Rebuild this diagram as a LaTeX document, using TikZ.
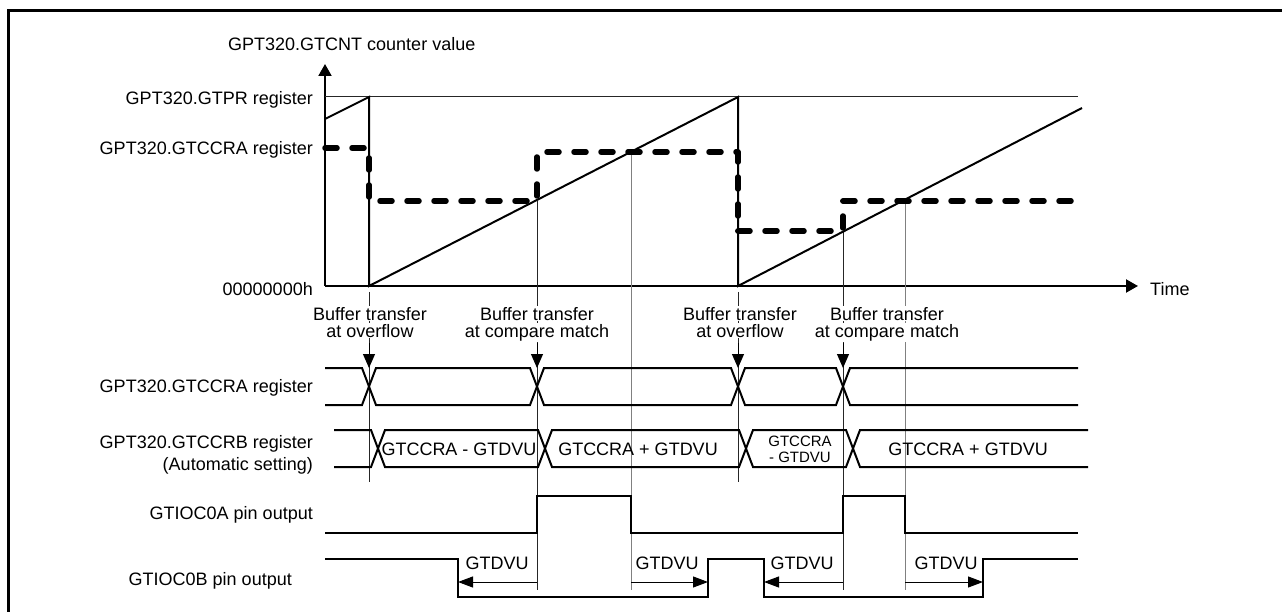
\documentclass[tikz,border=0pt]{standalone}
\usepackage{fontspec}
\setmainfont{Liberation Sans}
\usetikzlibrary{arrows.meta}
\begin{document}
\begin{tikzpicture}[x=1pt,y=-1pt,
  lbl/.style={font=\fontsize{18}{18}\selectfont, inner sep=0pt},
  smalllbl/.style={font=\fontsize{15}{15}\selectfont, inner sep=0pt},
  covlbl/.style={lbl, fill=white, inner sep=1pt},
  wave/.style={line width=2pt, line join=miter},
  thinln/.style={line width=1pt, black!85},
  grayln/.style={line width=1pt, black!50},
  dashln/.style={line width=5.5pt, line cap=round, line join=round, dash pattern=on 12pt off 15pt},
  axisarrow/.style={line width=2pt, -{Triangle[length=12pt,width=13pt]}},
  evarrow/.style={line width=1pt, -{Triangle[length=14pt,width=12pt]}},
  dimarrow/.style={line width=1pt, -{Triangle[length=15pt,width=11pt]}}]
\clip (0,0) rectangle (1282,612);
\fill[white] (0,0) rectangle (1282,612);
% frame
\draw[line width=3pt] (8.5,10.5) rectangle (1320,650);

% axes
\coordinate (O) at (325,286);
\coordinate (Ytop) at (325,64);
\coordinate (Xend) at (1138,286);
\draw[axisarrow] (O) -- (Ytop);
\draw[axisarrow] (O) -- (Xend);
\node[lbl, anchor=base west] (ytitle) at (228,51) {GPT320.GTCNT counter value};
\node[lbl, anchor=base west] (tlabel) at (1150,295) {Time};
\node[lbl, anchor=base east] (gtpr) at (313,105) {GPT320.GTPR register};
\node[lbl, anchor=base east] (gtccra) at (313,155) {GPT320.GTCCRA register};
\node[lbl, anchor=base east] (zero) at (313,295) {00000000h};

% GTPR level
\draw[thinln] (325,97) -- (1078,97);

% event vertical lines
\draw[thinln] (369,292) -- (369,482);
\draw[thinln] (738,292) -- (738,482);
\draw[thinln] (537,201) -- (537,590);
\draw[thinln] (843,231) -- (843,590);
\draw[grayln] (631,152) -- (631,590);
\draw[grayln] (905,201) -- (905,590);

% sawtooth counter
\draw[line width=2pt, line join=miter] (325,119) -- (369,97) -- (369,286) -- (738,97) -- (738,286) -- (1082,108);

% GTCCRA dashed level
\draw[dashln] (325,148) -- (369,148) -- (369,201) -- (537,201) -- (537,152) -- (738,152) -- (738,231) -- (843,231) -- (843,201) -- (1077,201);

% buffer transfer labels
\node[covlbl, anchor=base] (bt1) at (370,320) {Buffer transfer};
\node[covlbl, anchor=base] (bt1b) at (370,337) {at overflow};
\node[covlbl, anchor=base] (bt2) at (537,320) {Buffer transfer};
\node[covlbl, anchor=base] (bt2b) at (537,337) {at compare match};
\node[covlbl, anchor=base] (bt3) at (740,320) {Buffer transfer};
\node[covlbl, anchor=base] (bt3b) at (740,337) {at overflow};
\node[covlbl, anchor=base] (bt4) at (887,320) {Buffer transfer};
\node[covlbl, anchor=base] (bt4b) at (887,337) {at compare match};

\foreach \x/\n in {369/a,537/b,738/c,843/d}{
  \coordinate (es\n) at (\x,343);
  \coordinate (ee\n) at (\x,368);
  \draw[evarrow] (es\n) -- (ee\n);
}

% bus 1: GTCCRA register
\node[lbl, anchor=base east] (busa) at (313,392) {GPT320.GTCCRA register};
\draw[wave] (325,368) -- (362,368) -- (376,405) -- (530,405) -- (544,368) -- (731,368) -- (745,405) -- (836,405) -- (850,368) -- (1078,368);
\draw[wave] (325,405) -- (362,405) -- (376,368) -- (530,368) -- (544,405) -- (731,405) -- (745,368) -- (836,368) -- (850,405) -- (1078,405);

% bus 2: GTCCRB register
\node[lbl, anchor=base east] (busb) at (313,448) {GPT320.GTCCRB register};
\node[lbl, anchor=base east] (busb2) at (313,470) {(Automatic setting)};
\draw[wave] (334,430) -- (371,430) -- (385,467) -- (538,467) -- (552,430) -- (739,430) -- (753,467) -- (846,467) -- (860,430) -- (1088,430);
\draw[wave] (334,467) -- (371,467) -- (385,430) -- (538,430) -- (552,467) -- (739,467) -- (753,430) -- (846,430) -- (860,467) -- (1088,467);
\node[lbl, anchor=base] (v1) at (459,455) {GTCCRA - GTDVU};
\node[lbl, anchor=base] (v2) at (638,455) {GTCCRA + GTDVU};
\node[smalllbl, anchor=base] (v3) at (800,446) {GTCCRA};
\node[smalllbl, anchor=base] (v3b) at (800,462) {- GTDVU};
\node[lbl, anchor=base] (v4) at (968,455) {GTCCRA + GTDVU};

% GTIOC0A
\node[lbl, anchor=base east] (pa) at (313,519) {GTIOC0A pin output};
\draw[wave] (325,533) -- (537,533) -- (537,496) -- (631,496) -- (631,533) -- (843,533) -- (843,496) -- (905,496) -- (905,533) -- (1078,533);

% GTIOC0B
\node[lbl, anchor=base east] (pb) at (292,585) {GTIOC0B pin output};
\draw[wave] (325,559) -- (458,559) -- (458,597) -- (708,597) -- (708,559) -- (764,559) -- (764,597) -- (983,597) -- (983,559) -- (1078,559);

% dead time arrows
\coordinate (d1s) at (537,582); \coordinate (d1e) at (458,582);
\coordinate (d2s) at (631,582); \coordinate (d2e) at (708,582);
\coordinate (d3s) at (843,582); \coordinate (d3e) at (764,582);
\coordinate (d4s) at (905,582); \coordinate (d4e) at (983,582);
\draw[dimarrow] (d1s) -- (d1e);
\draw[dimarrow] (d2s) -- (d2e);
\draw[dimarrow] (d3s) -- (d3e);
\draw[dimarrow] (d4s) -- (d4e);
\node[lbl, anchor=base] (g1) at (497,569) {GTDVU};
\node[lbl, anchor=base] (g2) at (667,569) {GTDVU};
\node[lbl, anchor=base] (g3) at (802,569) {GTDVU};
\node[lbl, anchor=base] (g4) at (946,569) {GTDVU};
\end{tikzpicture}
\end{document}
